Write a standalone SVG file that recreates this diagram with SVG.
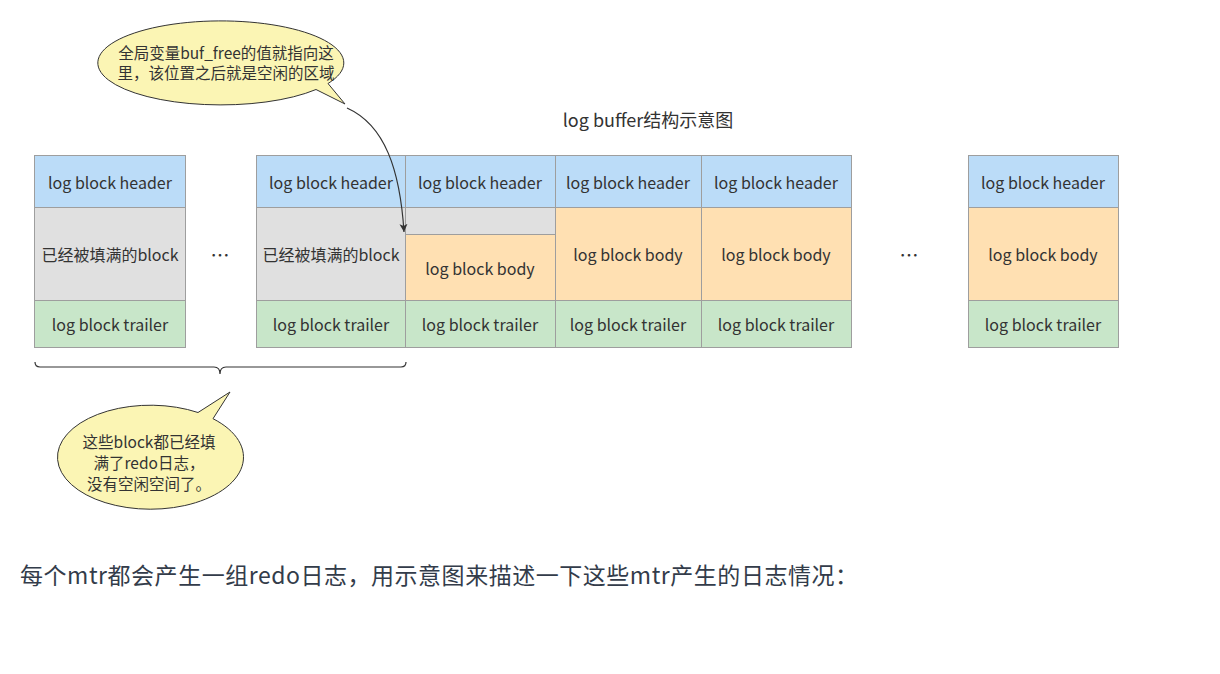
<svg xmlns="http://www.w3.org/2000/svg" width="1220" height="674" viewBox="0 0 1220 674">
<style>
text{font-family:"Microsoft YaHei","Noto Sans CJK SC","Noto Sans",sans-serif;fill:#333;font-size:16px;text-anchor:middle;dominant-baseline:central}
.h{fill:#bbdcf8;stroke:#9e9e9e;stroke-width:1}
.g{fill:#e0e0e0;stroke:#9e9e9e;stroke-width:1}
.o{fill:#ffe0b2;stroke:#9e9e9e;stroke-width:1}
.t{fill:#c8e6c9;stroke:#9e9e9e;stroke-width:1}
.bub{fill:#fbf5b4;stroke:#333;stroke-width:1}
.bt{font-size:15.5px}
.dots{font-size:19px}
</style>
<defs>
<marker id="ah" markerWidth="10" markerHeight="10" refX="8" refY="5" orient="auto" markerUnits="userSpaceOnUse">
<path d="M0,1 L8,5 L0,9 L2,5 Z" fill="#333"/>
</marker>
</defs>
<rect width="1220" height="674" fill="#fff"/>
<g id="block1">
<rect class="h" x="34.5" y="155.5" width="151" height="52"/>
<rect class="g" x="34.5" y="207.5" width="151" height="93"/>
<rect class="t" x="34.5" y="300.5" width="151" height="47"/>
<text x="110" y="182">log block header</text>
<text x="110" y="254">已经被填满的block</text>
<text x="110" y="324">log block trailer</text>
</g>
<g id="dots1"><text class="dots" x="220" y="254">…</text></g>
<g id="block2">
<rect class="h" x="256.5" y="155.5" width="149" height="52"/>
<rect class="g" x="256.5" y="207.5" width="149" height="93"/>
<rect class="t" x="256.5" y="300.5" width="149" height="47"/>
<text x="331" y="182">log block header</text>
<text x="331" y="254">已经被填满的block</text>
<text x="331" y="324">log block trailer</text>
</g>
<g id="block3">
<rect class="h" x="405.5" y="155.5" width="150" height="52"/>
<rect class="g" x="405.5" y="207.5" width="150" height="27"/>
<rect class="o" x="405.5" y="234.5" width="150" height="66"/>
<rect class="t" x="405.5" y="300.5" width="150" height="47"/>
<text x="480" y="182">log block header</text>
<text x="480" y="268">log block body</text>
<text x="480" y="324">log block trailer</text>
</g>
<g id="block4">
<rect class="h" x="555.5" y="155.5" width="146" height="52"/>
<rect class="o" x="555.5" y="207.5" width="146" height="93"/>
<rect class="t" x="555.5" y="300.5" width="146" height="47"/>
<text x="628" y="182">log block header</text>
<text x="628" y="254">log block body</text>
<text x="628" y="324">log block trailer</text>
</g>
<g id="block5">
<rect class="h" x="701.5" y="155.5" width="150" height="52"/>
<rect class="o" x="701.5" y="207.5" width="150" height="93"/>
<rect class="t" x="701.5" y="300.5" width="150" height="47"/>
<text x="776" y="182">log block header</text>
<text x="776" y="254">log block body</text>
<text x="776" y="324">log block trailer</text>
</g>
<g id="dots2"><text class="dots" x="909" y="254">…</text></g>
<g id="block6">
<rect class="h" x="968.5" y="155.5" width="150" height="52"/>
<rect class="o" x="968.5" y="207.5" width="150" height="93"/>
<rect class="t" x="968.5" y="300.5" width="150" height="47"/>
<text x="1043" y="182">log block header</text>
<text x="1043" y="254">log block body</text>
<text x="1043" y="324">log block trailer</text>
</g>
<g id="title"><text x="648" y="119" style="font-size:18px">log buffer结构示意图</text></g>
<g id="callout1">
<path class="bub" d="M316,89.5 A123,42 0 1 1 328,83.5 L345,104 Z"/>
<text class="bt" x="226" y="52">全局变量buf_free的值就指向这</text>
<text class="bt" x="226" y="72">里，该位置之后就是空闲的区域</text>
</g>
<g id="callout2">
<path class="bub" d="M213,418.7 A93,52 0 1 1 198,412.5 L230,392 Z"/>
<text class="bt" x="149" y="441">这些block都已经填</text>
<text class="bt" x="149" y="462">满了redo日志，</text>
<text class="bt" x="149" y="483">没有空闲空间了。</text>
</g>
<g id="connectors">
<path d="M347,108 C385,125 400,170 404,232" fill="none" stroke="#333" stroke-width="1.2" marker-end="url(#ah)"/>
<path d="M35,362 Q35,367 40,367 L214,367 Q220,367 220,374 Q220,367 226,367 L401,367 Q406,367 406,362" fill="none" stroke="#333" stroke-width="1.2"/>
</g>
<g id="footer">
<text x="20" y="574" textLength="838" lengthAdjust="spacing" style="text-anchor:start;font-size:23px;fill:#333c4a">每个mtr都会产生一组redo日志，用示意图来描述一下这些mtr产生的日志情况：</text>
</g>
</svg>
